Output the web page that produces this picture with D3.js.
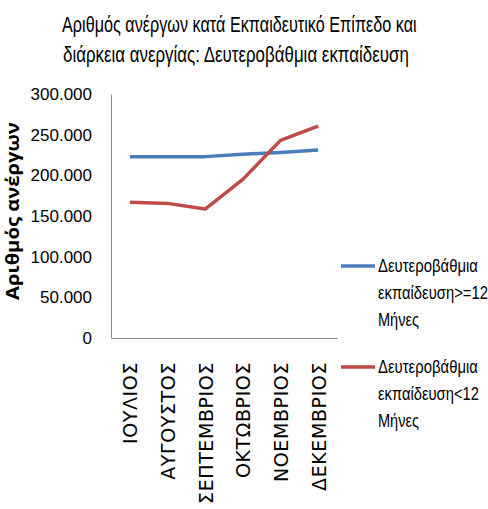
<!DOCTYPE html>
<html>
<head>
<meta charset="utf-8">
<script src="https://cdn.jsdelivr.net/npm/d3@7"></script>
<style>
  body { margin: 0; background: #fff; }
  text { font-family: "Liberation Sans", "Open Sans", sans-serif; fill: #000; }
</style>
</head>
<body>
<div id="chart"></div>
<script>
var months = ["ΙΟΥΛΙΟΣ", "ΑΥΓΟΥΣΤΟΣ", "ΣΕΠΤΕΜΒΡΙΟΣ", "ΟΚΤΩΒΡΙΟΣ", "ΝΟΕΜΒΡΙΟΣ", "ΔΕΚΕΜΒΡΙΟΣ"];
var longTerm = [223000, 223000, 223000, 226000, 228000, 231000];
var shortTerm = [167000, 165500, 158500, 195000, 243000, 260500];
var yTicks = [0, 50000, 100000, 150000, 200000, 250000, 300000];
var seriesNames = [["Δευτεροβάθμια", "εκπαίδευση>=12", "Μήνες"], ["Δευτεροβάθμια", "εκπαίδευση<12", "Μήνες"]];
var seriesColors = ["#4a7ebb", "#be4b48"];

var width = 488, height = 509;
var margin = {top: 94, left: 111, right: 151, bottom: 171};

var svg = d3.select("#chart").append("svg")
    .attr("width", width)
    .attr("height", height);

// squeeze a text horizontally so it takes the narrow width of the original font
function squeeze(sel, x, y, w, extra) {
    var k = w / sel.node().getComputedTextLength();
    sel.attr("transform", "translate(" + x + "," + y + ")" + (extra || "") + " scale(" + k + ",1)");
}

squeeze(svg.append("text")
    .style("font-size", "22px")
    .text("Αριθμός ανέργων κατά  Εκπαιδευτικό Επίπεδο και"), 62, 32, 355);
squeeze(svg.append("text")
    .style("font-size", "22px")
    .text("διάρκεια ανεργίας: Δευτεροβάθμια εκπαίδευση"), 63, 62, 346);

var x = d3.scaleBand()
    .domain(months)
    .range([margin.left, width - margin.right]);

var y = d3.scaleLinear()
    .domain([0, 300000])
    .range([height - margin.bottom, margin.top]);

var fmt = function(d) { return d === 0 ? "0" : d3.format(",")(d).replace(/,/g, "."); };

// y axis
var yAxis = svg.append("g")
    .attr("transform", "translate(" + margin.left + ",0)")
    .call(d3.axisLeft(y).tickValues(yTicks).tickFormat(fmt).tickSize(0).tickPadding(19));
yAxis.select(".domain").attr("stroke", "#8c8c8c");
yAxis.selectAll("text").style("font-size", "17px")
    .style("font-family", "'Liberation Sans', sans-serif");

// x axis
var xAxis = svg.append("g")
    .attr("transform", "translate(0," + (height - margin.bottom) + ")")
    .call(d3.axisBottom(x).tickSize(0));
xAxis.select(".domain").attr("stroke", "#8c8c8c");
xAxis.selectAll("text")
    .style("font-size", "19px")
    .style("letter-spacing", "0.6px")
    .style("font-family", "'DejaVu Sans', sans-serif")
    .attr("transform", "rotate(-90)")
    .attr("text-anchor", "end")
    .attr("x", -24)
    .attr("y", 1)
    .attr("dy", "0.35em");

// y title
squeeze(svg.append("text")
    .style("font-size", "17px")
    .style("font-weight", "bold")
    .style("font-family", "'Open Sans', sans-serif")
    .text("Αριθμός ανέργων"), 19, 300, 178, " rotate(-90)");

var line = d3.line()
    .x(function(d, i) { return x(months[i]) + x.bandwidth() / 2; })
    .y(function(d) { return y(d); });

[longTerm, shortTerm].forEach(function(s, i) {
    svg.append("path")
        .datum(s)
        .attr("d", line)
        .attr("fill", "none")
        .attr("stroke", seriesColors[i])
        .attr("stroke-width", 3.5)
        .attr("stroke-linejoin", "round");
});

// legend
var legendY = [266, 367];
var legendW = [[100, 110, 41], [100, 101, 41]];
seriesNames.forEach(function(names, i) {
    var g = svg.append("g").attr("transform", "translate(341," + legendY[i] + ")");
    g.append("line")
        .attr("x1", 0).attr("x2", 34)
        .attr("stroke", seriesColors[i])
        .attr("stroke-width", 3.5);
    names.forEach(function(n, j) {
        squeeze(g.append("text")
            .attr("dy", "0.35em")
            .style("font-size", "18px")
            .text(n), 37, j * 27, legendW[i][j]);
    });
});
</script>
</body>
</html>
